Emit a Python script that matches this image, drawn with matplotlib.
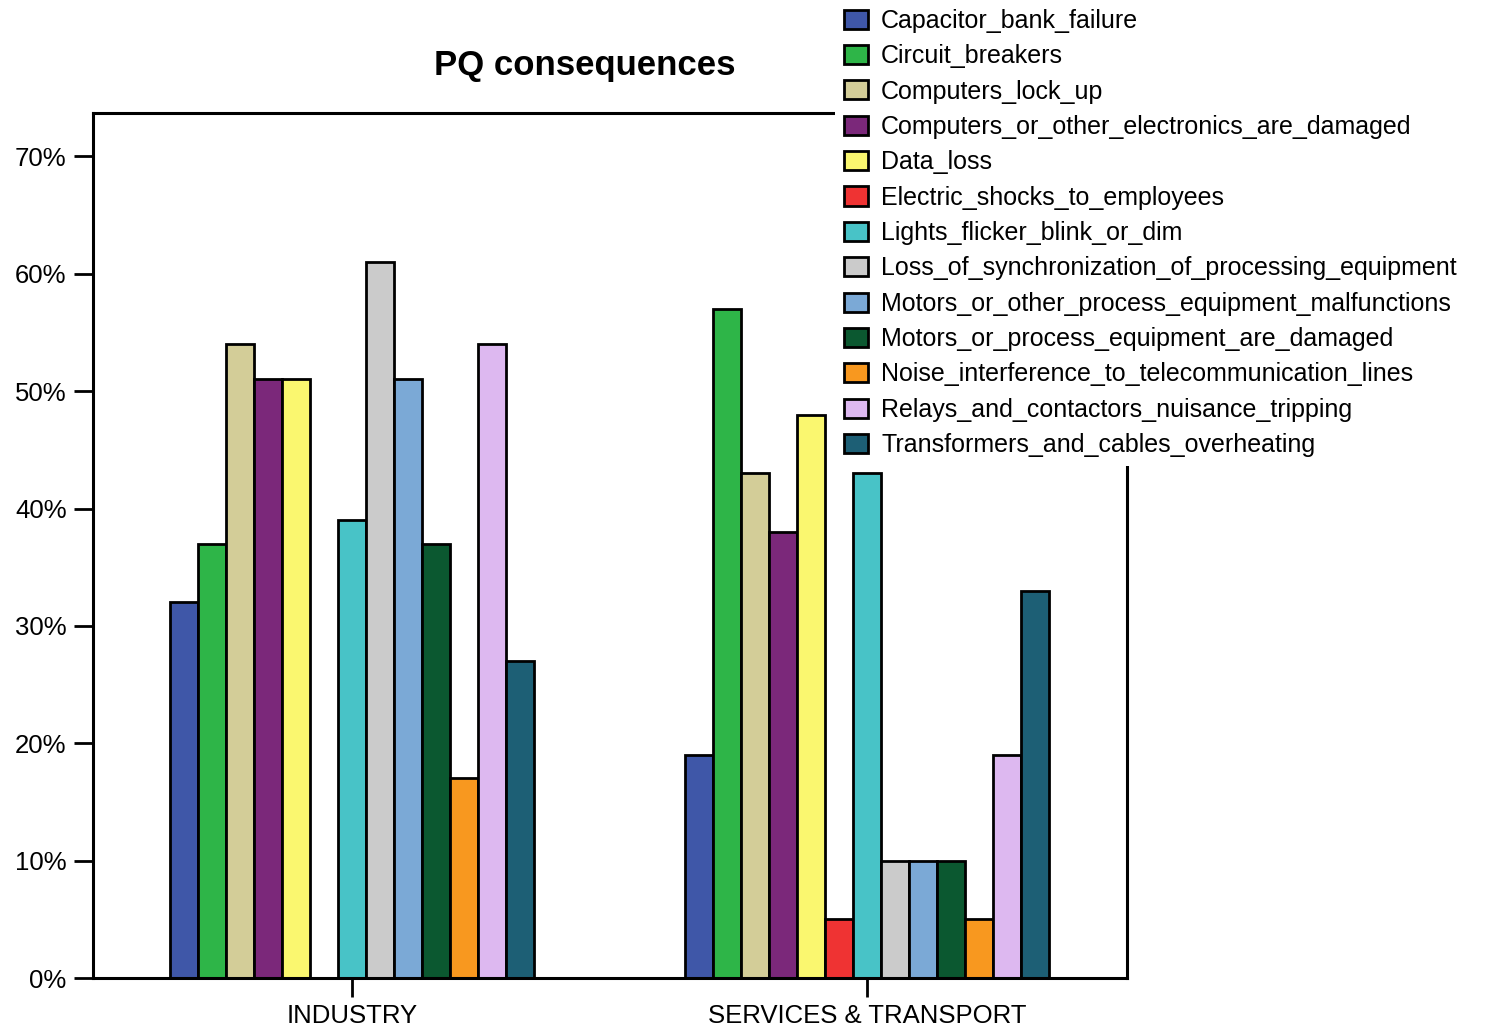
import numpy as np
import matplotlib
matplotlib.use("Agg")
import matplotlib.pyplot as plt

plt.rcParams['font.family'] = ['Liberation Sans', 'DejaVu Sans']

groups = ["INDUSTRY", "SERVICES & TRANSPORT"]
consequences = [
    "Capacitor_bank_failure",
    "Circuit_breakers",
    "Computers_lock_up",
    "Computers_or_other_electronics_are_damaged",
    "Data_loss",
    "Electric_shocks_to_employees",
    "Lights_flicker_blink_or_dim",
    "Loss_of_synchronization_of_processing_equipment",
    "Motors_or_other_process_equipment_malfunctions",
    "Motors_or_process_equipment_are_damaged",
    "Noise_interference_to_telecommunication_lines",
    "Relays_and_contactors_nuisance_tripping",
    "Transformers_and_cables_overheating",
]
industry = [32, 37, 54, 51, 51, 0, 39, 61, 51, 37, 17, 54, 27]
services = [19, 57, 43, 38, 48, 5, 43, 10, 10, 10, 5, 19, 33]
colors = ["#3F57A8", "#2EB548", "#D3CD98", "#7B287A", "#FAF76F", "#EF3333",
          "#48C3C7", "#CBCBCB", "#7BA9D6", "#0B5830", "#F8981F", "#DDB8F0",
          "#1D5F75"]

fig = plt.figure(figsize=(14.87, 10.27), dpi=100)
ax = fig.add_axes([93/1487, 1-978/1027, (1127-93)/1487, (978-113)/1027])

x = np.arange(len(groups))
w = 0.0544
n = len(consequences)
for i, name in enumerate(consequences):
    vals = [industry[i], services[i]]
    ax.bar(x + (i - (n-1)/2) * w, vals, width=w, color=colors[i],
           edgecolor="black", linewidth=2, label=name)

ax.set_xlim(-0.503, 1.505)
ax.set_ylim(0, 73.7)
ax.set_yticks(range(0, 71, 10))
ax.set_yticklabels([f"{v}%" for v in range(0, 71, 10)])
ax.set_xticks(x)
ax.set_xticklabels(groups)
ax.tick_params(axis='both', labelsize=18.5, length=14, width=2, pad=5)
for s in ax.spines.values():
    s.set_linewidth(2.2)

fig.text(585/1487, 1-65/1027, "PQ consequences", ha="center", va="center",
         fontsize=25, fontweight="bold")

# legend sits over the top right corner of the axes, white box, no border
leg = fig.legend(loc="upper left", bbox_to_anchor=(835/1487, 1.0),
                 fontsize=18, frameon=True, facecolor="white", edgecolor="none",
                 framealpha=1, fancybox=False, handlelength=0.95, handleheight=0.8,
                 handletextpad=0.55, labelspacing=0.455, borderpad=0.35,
                 borderaxespad=0)

fig.savefig("out.png", dpi=100)
